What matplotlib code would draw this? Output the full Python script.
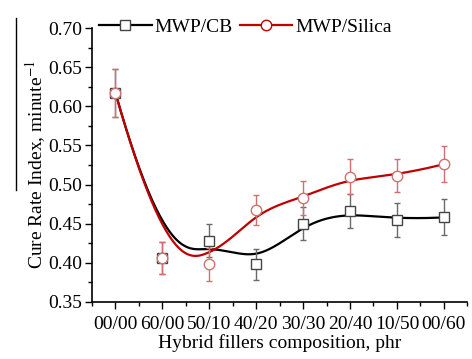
import numpy as np
import matplotlib
matplotlib.use("Agg")
import matplotlib.pyplot as plt
from matplotlib.ticker import MultipleLocator, AutoMinorLocator
from matplotlib.lines import Line2D

# data
compositions = ["00/00", "60/00", "50/10", "40/20", "30/30", "20/40", "10/50", "00/60"]
cb_rate = [0.617, 0.406, 0.428, 0.398, 0.450, 0.466, 0.455, 0.458]
cb_err = [0.031, 0.020, 0.021, 0.020, 0.021, 0.022, 0.022, 0.023]
silica_rate = [0.617, 0.406, 0.398, 0.467, 0.483, 0.510, 0.511, 0.526]
silica_err = [0.031, 0.020, 0.021, 0.019, 0.022, 0.022, 0.021, 0.023]


def bspline(px, py, k=3, num=400):
    # clamped cubic B-spline using the data points as control points
    px = np.asarray(px, float)
    py = np.asarray(py, float)
    n = len(px)
    t = np.concatenate([np.zeros(k + 1), np.arange(1, n - k), np.full(k + 1, n - k)])
    u = np.linspace(0, n - k - 1e-9, num)
    N = np.zeros((num, len(t) - 1))
    for i in range(len(t) - 1):
        N[:, i] = (t[i] <= u) & (u < t[i + 1])
    for d in range(1, k + 1):
        Nn = np.zeros((num, len(t) - 1 - d))
        for i in range(len(t) - 1 - d):
            if t[i + d] > t[i]:
                Nn[:, i] += (u - t[i]) / (t[i + d] - t[i]) * N[:, i]
            if t[i + d + 1] > t[i + 1]:
                Nn[:, i] += (t[i + d + 1] - u) / (t[i + d + 1] - t[i + 1]) * N[:, i + 1]
        N = Nn
    return N @ px, N @ py


def main():
    plt.rcParams["font.family"] = ["Liberation Serif", "DejaVu Serif"]
    plt.rcParams["mathtext.fontset"] = "stix"
    fs = 14

    fig = plt.figure(figsize=(4.72, 3.59), dpi=100)
    ax = fig.add_axes([0.195, 0.159, 0.795, 0.763])

    x = np.arange(len(compositions))
    black = "#000000"
    red = "#c00000"

    for rate, err, col, ecol, mk, ms in [
        (cb_rate, cb_err, black, "#6a6a6a", "s", 6.5),
        (silica_rate, silica_err, red, "#d27070", "o", 7.5),
    ]:
        sx, sy = bspline(x, rate)
        ax.plot(sx, sy, color=col, lw=1.6, zorder=2)
        ax.errorbar(x, rate, yerr=err, fmt="none", ecolor=ecol, elinewidth=1.0,
                    capsize=2.5, capthick=1.0, zorder=3)
        ax.plot(x, rate, ls="none", marker=mk, ms=ms, mfc="white", mec=ecol if col == red else "#444444",
                mew=1.0, zorder=4)

    ax.set_xlim(-0.5, 7.5)
    ax.set_ylim(0.35, 0.70)
    ax.set_xticks(x)
    ax.set_xticklabels(compositions, fontsize=14.5)
    ax.xaxis.set_minor_locator(MultipleLocator(0.5))
    ax.yaxis.set_major_locator(MultipleLocator(0.05))
    ax.yaxis.set_minor_locator(AutoMinorLocator(2))
    ax.yaxis.set_major_formatter(matplotlib.ticker.FormatStrFormatter("%.2f"))
    ax.tick_params(axis="both", which="major", direction="out", length=5, width=1,
                   labelsize=fs, pad=2)
    ax.tick_params(axis="x", which="major", pad=5)
    ax.tick_params(axis="both", which="minor", direction="out", length=3, width=1)
    for s in ["top", "right"]:
        ax.spines[s].set_visible(False)
    for s in ["left", "bottom"]:
        ax.spines[s].set_linewidth(1.2)

    ax.set_xlabel("Hybrid fillers composition, phr", fontsize=fs, labelpad=1)
    ax.set_ylabel("Cure Rate Index, minute$^{-1}$", fontsize=fs, labelpad=0)

    handles = [
        Line2D([], [], color=black, lw=1.6, marker="s", ms=6.5, mfc="white", mec="#444444"),
        Line2D([], [], color=red, lw=1.6, marker="o", ms=7.5, mfc="white", mec=red),
    ]
    fig.legend(handles, ["MWP/CB", "MWP/Silica"], loc="center left",
               bbox_to_anchor=(0.21, 0.925), ncol=2, frameon=False, fontsize=fs,
               handlelength=2.7, handletextpad=0.15, columnspacing=0.35,
               borderaxespad=0, borderpad=0)

    # thin rule left of the y label, as in the source image
    fig.add_artist(Line2D([0.034, 0.034], [0.47, 0.95], color="black", lw=1.0,
                          transform=fig.transFigure))

    fig.savefig("out.png", dpi=100)


if __name__ == "__main__": main()
